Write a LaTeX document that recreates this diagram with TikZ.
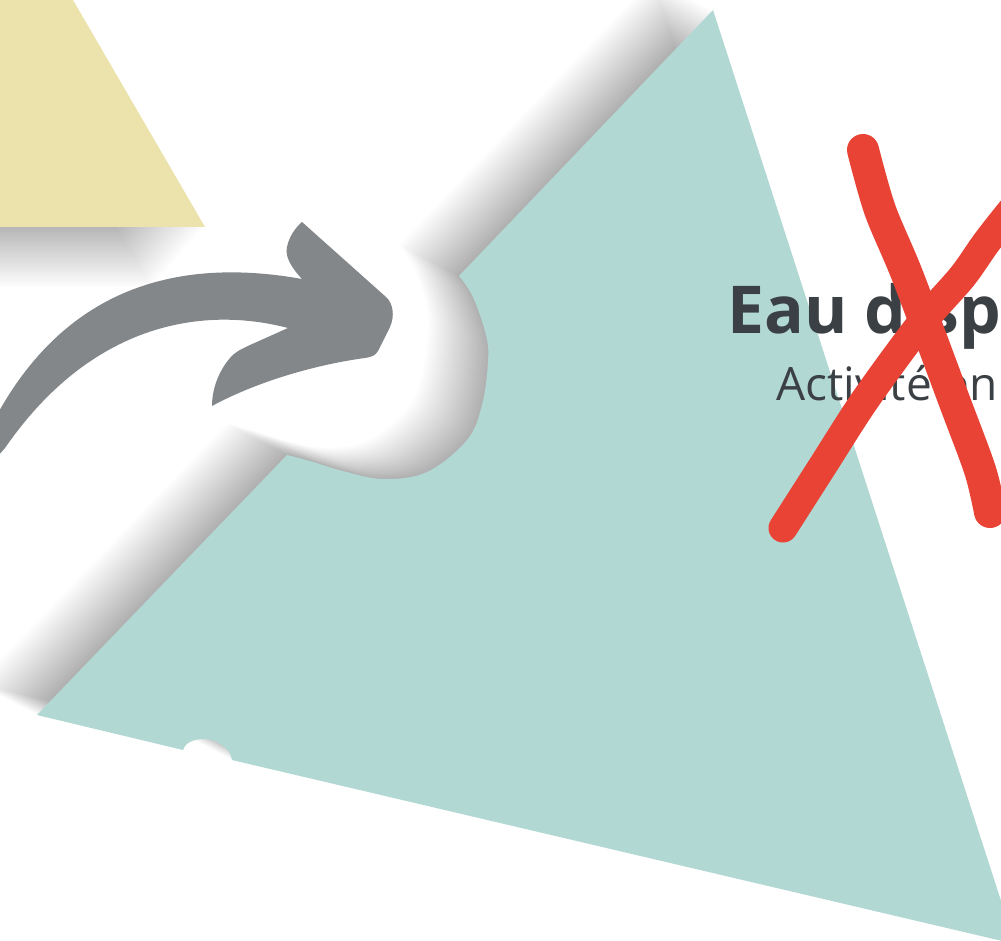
\documentclass[tikz,border=0pt]{standalone}
\usepackage{fontspec}
\newfontfamily\osans{Open Sans}
\definecolor{tealpiece}{HTML}{B2D8D4}
\definecolor{yellowpiece}{HTML}{ECE3AC}
\definecolor{arrowgray}{HTML}{84878A}
\definecolor{xred}{HTML}{E84335}
\definecolor{textgray}{HTML}{3B4045}
\tikzset{
  xstroke/.style={draw=xred, line cap=round, line join=round},
  titletext/.style={anchor=base west, inner sep=0pt, text=textgray, font=\osans\bfseries\fontsize{66}{70}\selectfont},
  subtext/.style={anchor=base west, inner sep=0pt, text=textgray, font=\osans\fontsize{46}{50}\selectfont},
  shadowlayer/.style={fill=black, opacity=0.013},
}
\newcommand\yellowshape{(-300,227) -- (205,227) -- (73,0) -- (30,-75) -- (-300,-75) -- cycle}
\newcommand\tealshape{(713,10) -- (459,276)
  -- plot[smooth, tension=0.6] coordinates {(459,276) (473,297) (486,335) (488,362) (482,405) (467,440) (427,472) (383,479) (343,471) (310,461) (287,455)}
  -- (37,715) -- (183,750)
  .. controls (186,741) and (196,739) .. (205,739)
  .. controls (218,740) and (230,748) .. (232,760)
  -- (1015,944) -- cycle}
\begin{document}
\begin{tikzpicture}[x=1pt,y=-1pt]
\useasboundingbox (0,0) rectangle (1001,941);
\clip (0,0) rectangle (1001,941);
\fill[white] (0,0) rectangle (1001,941);
% yellow piece with soft shadow
\foreach \t in {1,...,24} {
  \pgfmathsetmacro\sx{-2.2*\t}
  \pgfmathsetmacro\sy{2.5*\t}
  \fill[shadowlayer, shift={(\sx,\sy)}] \yellowshape;
}
\fill[yellowpiece] \yellowshape;
% teal piece with soft shadow
\foreach \t in {1,...,26} {
  \pgfmathsetmacro\sx{-2.3*\t}
  \pgfmathsetmacro\sy{-1.2*\t}
  \fill[shadowlayer, shift={(\sx,\sy)}] \tealshape;
}
\fill[tealpiece] \tealshape;
% arrow
\fill[arrowgray]
  (-2,413) .. controls (50,320) and (140,250) .. (302,279)
  .. controls (290,266) and (285,256) .. (287,247)
  .. controls (289,237) and (295,228) .. (302,222)
  -- (386,297)
  .. controls (393,303) and (395,316) .. (390,327)
  -- (378,351)
  .. controls (375,356) and (371,357) .. (365,358)
  .. controls (320,364) and (260,380) .. (212,406)
  .. controls (212,390) and (218,372) .. (230,358)
  .. controls (236,351) and (242,349) .. (250,345)
  -- (288,328)
  .. controls (200,305) and (90,325) .. (5,448)
  -- (-2,456) -- cycle;
% texts
\node[titletext] (title) at (727,333) {Eau disponible};
\node[subtext] (sub) at (776,400) {Activité en};
% red X
\draw[xstroke, line width=32pt] plot[smooth] coordinates {(863,150) (880,210) (908,277) (954,400) (980,470) (990,512)};
\draw[xstroke, line width=29pt] plot[smooth] coordinates {(783,528) (822,467) (865,400) (920,325) (962,277) (986,243) (1012,210) (1040,178)};
\end{tikzpicture}
\end{document}
